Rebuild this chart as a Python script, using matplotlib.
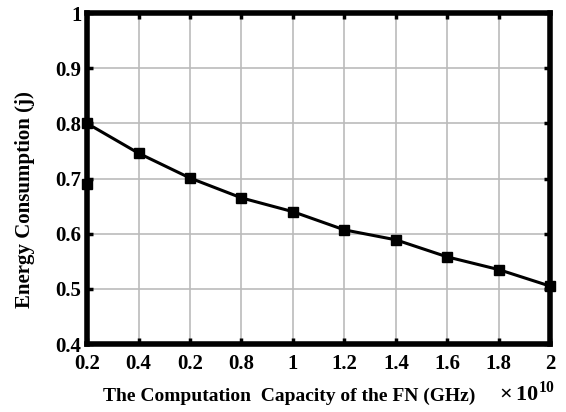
import numpy as np
import matplotlib.pyplot as plt

capacity = [0.2, 0.4, 0.6, 0.8, 1.0, 1.2, 1.4, 1.6, 1.8, 2.0]
energy = [0.800, 0.746, 0.701, 0.665, 0.640, 0.607, 0.589, 0.558, 0.535, 0.505]
stray_x = [0.2]
stray_y = [0.69]
xtick_vals = [0.2, 0.4, 0.6, 0.8, 1.0, 1.2, 1.4, 1.6, 1.8, 2.0]
xtick_labels = ['0.2', '0.4', '0.2', '0.8', '1', '1.2', '1.4', '1.6', '1.8', '2']
ytick_vals = [0.4, 0.5, 0.6, 0.7, 0.8, 0.9, 1.0]
ytick_labels = ['0.4', '0.5', '0.6', '0.7', '0.8', '0.9', '1']

plt.rcParams['font.family'] = 'Liberation Serif'
plt.rcParams['font.weight'] = 'bold'
plt.rcParams['mathtext.fontset'] = 'custom'
plt.rcParams['mathtext.rm'] = 'Liberation Serif:bold'
plt.rcParams['mathtext.bf'] = 'Liberation Serif:bold'

fig = plt.figure(figsize=(5.66, 4.12), dpi=100)
ax = fig.add_axes([0.154, 0.165, 0.818, 0.803])

ax.plot(capacity, energy, '-', color='black', lw=2.2, marker='s', ms=7, clip_on=False, zorder=5)
ax.plot(stray_x, stray_y, 's', color='black', ms=7, clip_on=False, zorder=5)

ax.set_xlim(0.2, 2.0)
ax.set_ylim(0.4, 1.0)
ax.set_xticks(xtick_vals)
ax.set_xticklabels(xtick_labels)
ax.set_yticks(ytick_vals)
ax.set_yticklabels(ytick_labels)
ax.tick_params(direction='in', length=4, width=2.5, labelsize=15, top=True, right=True)
ax.tick_params(axis='y', pad=4)
ax.tick_params(axis='x', pad=7)
ax.grid(color='#bbbbbb', lw=1.2)
for s in ax.spines.values():
    s.set_linewidth(4)

fig.text(0.044, 0.515, 'Energy Consumption (j)', rotation=90, fontsize=15, fontweight='bold',
         ha='center', va='center')
fig.text(0.511, 0.039, 'The Computation  Capacity of the FN (GHz)', fontsize=14, fontweight='bold',
         ha='center', va='center')
fig.text(0.931, 0.045, r'$\times\,10^{10}$', fontsize=16, ha='center', va='center')

fig.savefig('out.png', dpi=100)
